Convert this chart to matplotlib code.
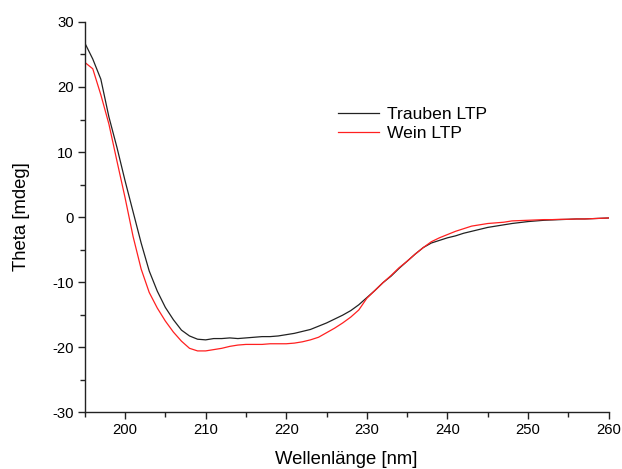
import numpy as np
import matplotlib
matplotlib.use("Agg")
import matplotlib.pyplot as plt
from matplotlib.ticker import MultipleLocator

plt.rcParams['font.family'] = ['Liberation Sans', 'DejaVu Sans']
plt.rcParams['axes.unicode_minus'] = False

# Wavelength grid (nm)
wavelength = np.arange(195, 261)

trauben_ltp = [
    26.8, 24.3, 21.2, 15.4, 10.7, 5.6, 0.8, -4.0, -8.3, -11.4,
    -13.9, -15.8, -17.4, -18.3, -18.8, -18.9, -18.7, -18.7, -18.6, -18.7,
    -18.6, -18.5, -18.4, -18.4, -18.3, -18.1, -17.9, -17.6, -17.3, -16.8,
    -16.3, -15.7, -15.1, -14.4, -13.5, -12.4, -11.3, -10.1, -9.1, -7.9,
    -6.8, -5.7, -4.7, -4.0, -3.6, -3.2, -2.9, -2.5, -2.2, -1.9,
    -1.6, -1.4, -1.2, -1.0, -0.85, -0.7, -0.6, -0.5, -0.45, -0.4,
    -0.35, -0.3, -0.3, -0.25, -0.2, -0.15,
]

wein_ltp = [
    23.8, 22.8, 18.8, 14.3, 8.6, 3.0, -3.0, -8.0, -11.6, -14.0,
    -16.0, -17.7, -19.1, -20.2, -20.6, -20.6, -20.4, -20.2, -19.9, -19.7,
    -19.6, -19.6, -19.6, -19.5, -19.5, -19.5, -19.4, -19.2, -18.9, -18.5,
    -17.8, -17.1, -16.3, -15.4, -14.3, -12.5, -11.3, -10.1, -9.0, -7.8,
    -6.8, -5.7, -4.7, -3.8, -3.2, -2.7, -2.2, -1.8, -1.4, -1.2,
    -1.0, -0.9, -0.8, -0.6, -0.55, -0.5, -0.45, -0.4, -0.4, -0.35,
    -0.35, -0.3, -0.3, -0.25, -0.2, -0.15,
]

fig = plt.figure(figsize=(6.22, 4.69), dpi=100)
ax = fig.add_axes([0.1362, 0.1215, 0.8424, 0.8316])

ax.plot(wavelength, trauben_ltp, color='#222222', lw=0.9, label='Trauben LTP')
ax.plot(wavelength, wein_ltp, color='#ff2020', lw=0.9, label='Wein LTP')

ax.set_xlim(195, 260)
ax.set_ylim(-30, 30)
ax.xaxis.set_major_locator(MultipleLocator(10))
ax.xaxis.set_minor_locator(MultipleLocator(5))
ax.yaxis.set_major_locator(MultipleLocator(10))
ax.yaxis.set_minor_locator(MultipleLocator(5))

for side in ('top', 'right'):
    ax.spines[side].set_visible(False)
for side in ('left', 'bottom'):
    ax.spines[side].set_linewidth(1.0)
    ax.spines[side].set_color('#222222')

ax.tick_params(which='major', direction='out', length=5, width=1.0,
               labelsize=10.7, color='#222222', pad=3)
ax.tick_params(which='minor', direction='out', length=3.3, width=1.0,
               color='#222222')

ax.set_xlabel('Wellenlänge [nm]', fontsize=13.3, labelpad=10)
ax.set_ylabel('Theta [mdeg]', fontsize=13.3, labelpad=16)

ax.legend(loc='upper left', bbox_to_anchor=(0.4834, 0.782), frameon=False,
          fontsize=12.6, handlelength=2.36, handletextpad=0.46,
          labelspacing=0.2, borderpad=0, borderaxespad=0)

fig.savefig('out.png', dpi=100)
